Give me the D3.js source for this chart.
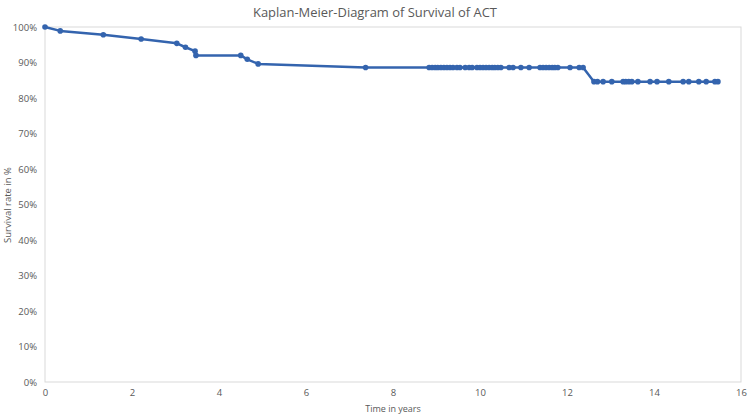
<!DOCTYPE html>
<html><head><meta charset="utf-8">
<script src="https://cdn.jsdelivr.net/npm/d3@7"></script>
<style>body{margin:0;background:#fff;} text{font-family:"Open Sans",sans-serif;fill:#595959;}</style>
</head><body>
<svg id="c" width="749" height="416"></svg>
<script>
const title = "Kaplan-Meier-Diagram of Survival of ACT";
const xLabel = "Time in years";
const yLabel = "Survival rate in %";
const xTicks = [0,2,4,6,8,10,12,14,16];
const yTicks = [0,10,20,30,40,50,60,70,80,90,100];
const times = [0,0.35,1.34,2.21,3.03,3.23,3.45,3.47,4.5,4.65,4.9,7.37,
  8.83,8.90,8.97,9.03,9.10,9.17,9.24,9.31,9.38,9.47,9.54,9.66,9.75,9.82,
  9.93,10.0,10.07,10.14,10.21,10.28,10.34,10.41,10.48,10.67,10.76,10.94,11.13,
  11.38,11.45,11.52,11.59,11.66,11.72,11.79,12.07,12.28,12.37,
  12.62,12.70,12.83,13.03,13.29,13.35,13.42,13.49,13.63,13.91,14.07,14.34,14.67,14.80,15.03,15.20,15.40,15.47];
const survival = [100,98.9,97.8,96.6,95.4,94.3,93.2,92.0,92.0,90.9,89.6,88.6,
  88.6,88.6,88.6,88.6,88.6,88.6,88.6,88.6,88.6,88.6,88.6,88.6,88.6,88.6,
  88.6,88.6,88.6,88.6,88.6,88.6,88.6,88.6,88.6,88.6,88.6,88.6,88.6,
  88.6,88.6,88.6,88.6,88.6,88.6,88.6,88.6,88.6,88.6,
  84.6,84.6,84.6,84.6,84.6,84.6,84.6,84.6,84.6,84.6,84.6,84.6,84.6,84.6,84.6,84.6,84.6,84.6];

const svg = d3.select("#c");
const L=45, R=741, T=27, B=382;
const x = d3.scaleLinear().domain([0,16]).range([L,R]);
const y = d3.scaleLinear().domain([0,100]).range([B,T]);
const col = "#3464ae";

svg.append("rect").attr("x",L).attr("y",T).attr("width",R-L).attr("height",B-T)
  .attr("fill","none").attr("stroke","#d9d9d9").attr("stroke-width",1);

const xa = svg.append("g").attr("transform",`translate(0,${B})`)
  .call(d3.axisBottom(x).tickValues(xTicks).tickSize(0).tickPadding(7));
xa.select(".domain").remove();
xa.selectAll("text").attr("font-size",9.5).style("fill","#595959");

const ya = svg.append("g").attr("transform",`translate(${L},0)`)
  .call(d3.axisLeft(y).tickValues(yTicks).tickSize(0).tickPadding(8).tickFormat(d=>d+"%"));
ya.select(".domain").remove();
ya.selectAll("text").attr("font-size",9.5).style("fill","#595959");

svg.append("text").attr("x",375).attr("y",17).attr("text-anchor","middle")
  .attr("font-size",13.5).attr("textLength",244).attr("lengthAdjust","spacingAndGlyphs").text(title);
svg.append("text").attr("x",393).attr("y",412).attr("text-anchor","middle")
  .attr("font-size",9).text(xLabel);
svg.append("text").attr("transform","translate(11,205) rotate(-90)").attr("text-anchor","middle")
  .attr("font-size",9.5).text(yLabel);

const pts = times.map((t,i)=>[t,survival[i]]);
svg.append("path").datum(pts).attr("fill","none").attr("stroke",col).attr("stroke-width",2.5)
  .attr("stroke-linejoin","round")
  .attr("d",d3.line().x(d=>x(d[0])).y(d=>y(d[1])));
svg.append("g").selectAll("circle").data(pts).join("circle")
  .attr("cx",d=>x(d[0])).attr("cy",d=>y(d[1])).attr("r",2.8).attr("fill",col);
</script>
</body></html>
